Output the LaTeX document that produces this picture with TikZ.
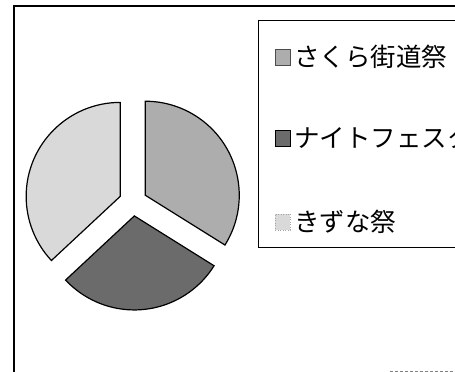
\documentclass[tikz,border=0pt]{standalone}
\usepackage{fontspec}
\setmainfont{Noto Sans CJK JP}
\usetikzlibrary{calc}
\definecolor{sakura}{gray}{0.68}
\definecolor{night}{gray}{0.42}
\definecolor{kizuna}{gray}{0.85}
\tikzset{
  slice/.style={draw=black, line width=1.2pt, line join=miter},
  legsq/.style={draw=gray, line width=0.5pt, minimum width=15pt, minimum height=16pt, inner sep=0pt},
  legtxt/.style={anchor=west, inner sep=0pt, font=\fontsize{25.5}{25.5}\selectfont},
}
\begin{document}
\begin{tikzpicture}[x=1pt,y=1pt]
\useasboundingbox (0,0) rectangle (455,372);
\fill[white] (0,0) rectangle (455,372);
% outer frame
\draw[line width=1.2pt] (14,-10) -- (14,366) -- (470,366);
\draw[gray, line width=0.6pt, dash pattern=on 3pt off 2pt] (390,1) -- (460,1);
% legend box
\draw[line width=0.8pt] (470,352) -- (258,352) -- (258,125) -- (470,125);
% pie
\coordinate (c) at (133,170);
\def\R{94}
\draw[slice, fill=sakura] ($(c)+(29:14)$) coordinate (p1) -- ++(-32:\R) arc[start angle=-32, end angle=90, radius=\R] -- cycle;
\draw[slice, fill=kizuna] ($(c)+(156.5:14)$) coordinate (p3) -- ++(90:\R) arc[start angle=90, end angle=223, radius=\R] -- cycle;
\draw[slice, fill=night] ($(c)+(275.5:14)$) coordinate (p2) -- ++(223:\R) arc[start angle=223, end angle=328, radius=\R] -- cycle;
% legend entries
\node[legsq, fill=sakura, draw=black!70] (s1) at (282.5,315) {};
\node[legsq, fill=night, draw=black] (s2) at (282.5,234) {};
\node[legsq, fill=kizuna, draw=gray!70, dotted] (s3) at (282.5,150) {};
\node[legtxt] (t1) at (294,315) {さくら街道祭};
\node[legtxt] (t2) at (294,234) {ナイトフェスタ};
\node[legtxt] (t3) at (294,150) {きずな祭};
\end{tikzpicture}
\end{document}
